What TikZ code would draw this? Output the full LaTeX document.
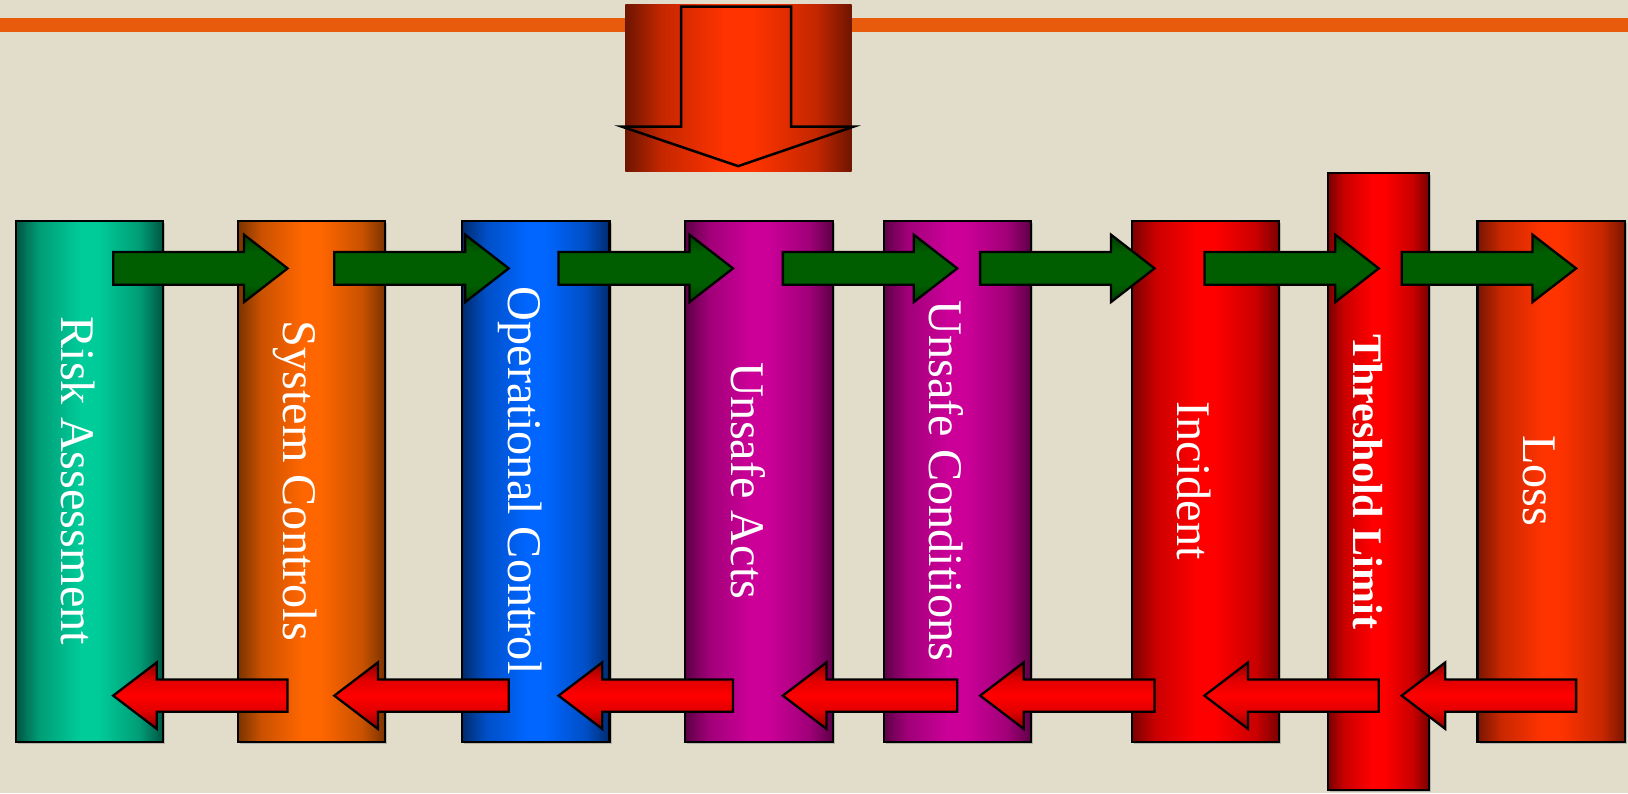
\documentclass[tikz,border=0pt]{standalone}
\usepackage{fontspec}
\setmainfont{Liberation Serif}
\definecolor{bg}{HTML}{E2DDCB}
\definecolor{oline}{HTML}{E95B0C}
\definecolor{tealD}{HTML}{005542}\definecolor{tealB}{HTML}{00CC99}
\definecolor{orgD}{HTML}{7A3300}\definecolor{orgB}{HTML}{FF6600}
\definecolor{bluD}{HTML}{002B6E}\definecolor{bluB}{HTML}{0066FF}
\definecolor{magD}{HTML}{5E0046}\definecolor{magB}{HTML}{CC0099}
\definecolor{redD}{HTML}{7A0000}\definecolor{redB}{HTML}{FF0000}
\definecolor{lossD}{HTML}{781600}\definecolor{lossB}{HTML}{FF3300}
\definecolor{topD}{HTML}{6E1500}\definecolor{topB}{HTML}{FF3300}
\definecolor{gD}{HTML}{003A00}\definecolor{gM}{HTML}{005E00}
\definecolor{rD}{HTML}{8B0000}\definecolor{rS}{HTML}{E00000}\definecolor{rB}{HTML}{FF0000}
\newcommand\mkcolshade[3]{%
  \colorlet{#1M}{#3!60!#2}%
  \pgfdeclarehorizontalshading{#1}{100bp}{color(0bp)=(#2); color(25bp)=(#2); color(33bp)=(#1M); color(47bp)=(#3); color(53bp)=(#3); color(67bp)=(#1M); color(75bp)=(#2); color(100bp)=(#2)}}
\mkcolshade{tealcol}{tealD}{tealB}
\mkcolshade{orgcol}{orgD}{orgB}
\mkcolshade{blucol}{bluD}{bluB}
\mkcolshade{magcol}{magD}{magB}
\mkcolshade{redcol}{redD}{redB}
\mkcolshade{losscol}{lossD}{lossB}
\mkcolshade{topcol}{topD}{topB}
\pgfdeclareverticalshading{garr}{100bp}{color(0bp)=(gD); color(25bp)=(gD); color(38bp)=(gM); color(62bp)=(gM); color(75bp)=(gD); color(100bp)=(gD)}
\pgfdeclareverticalshading{rarr}{100bp}{color(0bp)=(rD); color(25bp)=(rD); color(38bp)=(rS); color(50bp)=(rB); color(62bp)=(rS); color(75bp)=(rD); color(100bp)=(rD)}
\tikzset{
  colbox/.style={draw=black, line width=2pt, shade, inner sep=0pt, anchor=north west, minimum width=142pt},
  colshadow/.style={fill=black!45, opacity=0.5},
  lbl/.style={text=white, font=\fontsize{46.5}{50}\selectfont, rotate=-90, inner sep=0pt, anchor=base},
  arrline/.style={draw=black, line width=2.2pt, line join=miter},
  greenarrow/.pic={\draw[arrline, shade, shading=garr] (0,-15.8) -- (126,-15.8) -- (126,-32.5) -- (168,0) -- (126,32.5) -- (126,15.8) -- (0,15.8) -- cycle;},
  redarrow/.pic={\draw[arrline, shade, shading=rarr] (0,0) -- (42,-32) -- (42,-15.5) -- (168,-15.5) -- (168,15.5) -- (42,15.5) -- (42,32) -- cycle;}
}
\begin{document}
\begin{tikzpicture}[x=1pt,y=-1pt]
\useasboundingbox (0,0) rectangle (1568,763.8);
\fill[bg] (0,0) rectangle (1568,763.8);
% orange rule
\fill[oline] (0,17.7) rectangle (1568,30.5);
% top box with down arrow
\node[shade, shading=topcol, inner sep=0pt, anchor=north west, minimum width=218pt, minimum height=161pt] (topbox) at (602,4) {};
\draw[line width=2.4pt, line join=miter] (656,6.4) -- (762,6.4) -- (762,122) -- (822,122) -- (711,160) -- (599,122) -- (656,122) -- cycle;
% shadows
\foreach \x/\t/\h in {14/212/502, 228/212/502, 444/212/502, 659/212/502, 850/212/502, 1089/212/502, 1422/212/502}
  \fill[colshadow] (\x+3,\t+3) rectangle (\x+145,\t+\h+3);
% columns
\node[colbox, shading=tealcol, minimum height=502pt] (c1) at (14,212) {};
\node[colbox, shading=orgcol, minimum height=502pt] (c2) at (228,212) {};
\node[colbox, shading=blucol, minimum height=502pt] (c3) at (444,212) {};
\node[colbox, shading=magcol, minimum height=502pt] (c4) at (659,212) {};
\node[colbox, shading=magcol, minimum height=502pt] (c5) at (850,212) {};
\node[colbox, shading=redcol, minimum height=502pt] (c6) at (1089,212) {};
\fill[colshadow] (1281,169) rectangle (1378,763);
\node[colbox, shading=redcol, minimum width=97pt, minimum height=594pt] (c7) at (1278,166) {};
\node[colbox, shading=losscol, minimum height=502pt] (c8) at (1422,212) {};
% labels
\node[lbl] (t1) at (59.5,463) {Risk Assessment};
\node[lbl] (t2) at (273.5,463) {System Controls};
\node[lbl] (t3) at (489.5,463) {Operational Control};
\node[lbl] (t4) at (704.5,463) {Unsafe Acts};
\node[lbl] (t5) at (895.5,463) {Unsafe Conditions};
\node[lbl] (t6) at (1134,463) {Incident};
\node[lbl, font=\fontsize{40.5}{44}\selectfont\bfseries] (t7) at (1303.5,464) {Threshold Limit};
\node[lbl] (t8) at (1467.5,463) {Loss};
% arrows
\foreach \x in {109,322,538,754,944,1160,1350} {
  \pic at (\x,258.5) {greenarrow};
  \pic at (\x,670) {redarrow};
}
\end{tikzpicture}
\end{document}
